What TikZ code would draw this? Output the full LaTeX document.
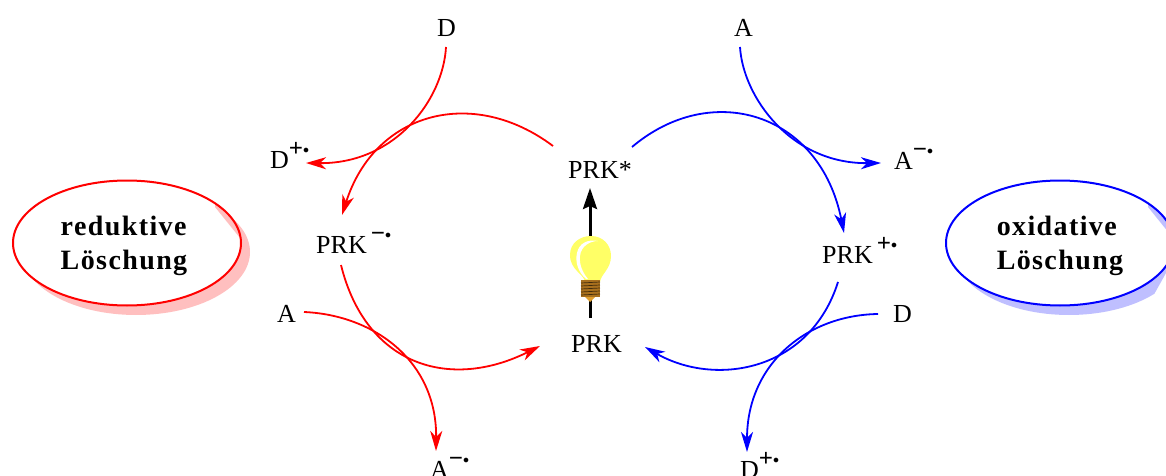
\documentclass[tikz,border=0pt]{standalone}
\usepackage{amsmath}
\usepackage{fontspec}
\setmainfont[BoldFeatures={LetterSpace=5}]{Liberation Serif}
\usepackage{xcolor}
\usetikzlibrary{arrows.meta,shapes.geometric}
\definecolor{bulbyellow}{HTML}{FFFF66}
\definecolor{bulbbrown}{HTML}{A8701E}
\definecolor{bulbtip}{HTML}{E0A030}
\newcommand{\radplus}{\raisebox{12pt}{\fontsize{25}{25}\selectfont\bfseries +}\raisebox{15pt}{\fontsize{12}{12}\selectfont$\bullet$}}
\newcommand{\radminus}{\raisebox{12pt}{\fontsize{25}{25}\selectfont\bfseries −}\raisebox{15pt}{\fontsize{12}{12}\selectfont$\bullet$}}

\begin{document}
\begin{tikzpicture}[x=1pt,y=-1pt,font=\fontsize{26}{30}\selectfont,
  species/.style={anchor=base west,inner sep=0pt},
  redox/.style={line width=1.8pt,-{Stealth[length=20pt,width=12pt,inset=6pt]}},
  quench/.style={ellipse,draw=#1,line width=2pt,minimum width=228pt,minimum height=125pt,inner sep=0pt,align=left,
    font=\fontsize{28}{34}\selectfont\bfseries}]
  \clip (0,0) rectangle (1166,476);
  % shadows and white faces
  \fill[red!25] (136,252) ellipse [x radius=114,y radius=63];
  \fill[white] (127,243) ellipse [x radius=114,y radius=63];
  \begin{scope}
    \clip (127,243) ellipse [x radius=114,y radius=63];
    \fill[red!25] (215,207) -- (240,238) -- (260,190) -- (215,190) -- cycle;
  \end{scope}
  \begin{scope}
    \clip (900,150) -- (1166,150) -- (1166,273) -- (1152,298) -- (1152,330) -- (900,330) -- cycle;
    \fill[blue!25] (1069,252) ellipse [x radius=114,y radius=63];
  \end{scope}
  \fill[white] (1060,243) ellipse [x radius=114,y radius=63];
  \begin{scope}
    \clip (1060,243) ellipse [x radius=114,y radius=63];
    \fill[blue!25] (1148,207) -- (1173,238) -- (1193,190) -- (1148,190) -- cycle;
  \end{scope}
  \node[quench=red] (redq) at (127,243) {\rule{0pt}{25pt}\kern-6pt reduktive\\\kern-6pt Löschung};
  \node[quench=blue] (oxq) at (1060,243) {\rule{0pt}{25pt}oxidative\\Löschung};

  \node[species] (dtop) at (437,37) {D};
  \node[species] (atop) at (734,37) {A};
  \node[species] (dplusl) at (270,168) {D\radplus};
  \node[species] (aminusr) at (894,169) {A\radminus};
  \node[species] (pstar) at (568,178) {PRK*};
  \node[species] (pminus) at (316,253) {PRK\hspace{4pt}\radminus};
  \node[species] (pplus) at (822,263) {PRK\hspace{4pt}\radplus};
  \node[species] (aleft) at (277,322) {A};
  \node[species] (dright) at (893,322) {D};
  \node[species] (prk) at (571,352) {PRK};
  \node[species] (aminusb) at (430,478) {A\radminus};
  \node[species] (dplusb) at (740,478) {D\radplus};

  % red half
  \draw[redox,red] ([shift={(-15pt,32pt)}]pstar.base west) .. controls (473,86) and (375,111.5) .. ([shift={(26pt,38pt)}]pminus.base west);
  \draw[redox,red] ([shift={(25pt,-12pt)}]pminus.base west) .. controls (366,366) and (450,391) .. ([shift={(-31pt,6pt)}]prk.base west);
  \draw[redox,red] ([shift={(9pt,-10pt)}]dtop.base west) .. controls (443,100) and (395,164) .. ([shift={(36pt,5pt)}]dplusl.base west);
  \draw[redox,red] ([shift={(27pt,10pt)}]aleft.base west) .. controls (374,315) and (437,361) .. ([shift={(6pt,27pt)}]aminusb.base west);
  % blue half
  \draw[redox,blue] ([shift={(64pt,31pt)}]pstar.base west) .. controls (711,80) and (820,112) .. ([shift={(22pt,30pt)}]pplus.base west);
  \draw[redox,blue] ([shift={(16pt,-19pt)}]pplus.base west) .. controls (809.5,372) and (714.6,387) .. ([shift={(74pt,5pt)}]prk.base west);
  \draw[redox,blue] ([shift={(6pt,-10pt)}]atop.base west) .. controls (743,97) and (791,164) .. ([shift={(-13pt,6pt)}]aminusr.base west);
  \draw[redox,blue] ([shift={(-15pt,8pt)}]dright.base west) .. controls (808,315) and (747,363) .. ([shift={(7pt,26pt)}]dplusb.base west);
  % excitation
  \draw[line width=3pt,-{Stealth[length=21pt,width=14pt,inset=3pt]}] ([shift={(19pt,34pt)}]prk.base west) -- ([shift={(22pt,-10pt)}]pstar.base west);

  % bulb
  \fill[bulbyellow] (585,282) .. controls (584,274) and (570,270) .. (570,255)
    .. controls (570,243) and (580,236) .. (591,236)
    .. controls (603,236) and (611,245) .. (611,256)
    .. controls (611,269) and (601,274) .. (600,282) -- cycle;
  \fill[white] (586,279) .. controls (578,272) and (575,262) .. (577,253)
    .. controls (579,243) and (588,239) .. (598,241)
    .. controls (590,241) and (581,246) .. (580,256)
    .. controls (579,265) and (583,273) .. (588,279) -- cycle;
  \fill[bulbtip] (584,296) -- (596,296) -- (590,302) -- cycle;
  \fill[bulbbrown] (581,280) rectangle (600,297);
  \foreach \ypos in {283,286,289,292,295}
    \draw[black!60!bulbbrown,line width=0.7pt] (581,\ypos) -- (600,\ypos-1);
\end{tikzpicture}
\end{document}
